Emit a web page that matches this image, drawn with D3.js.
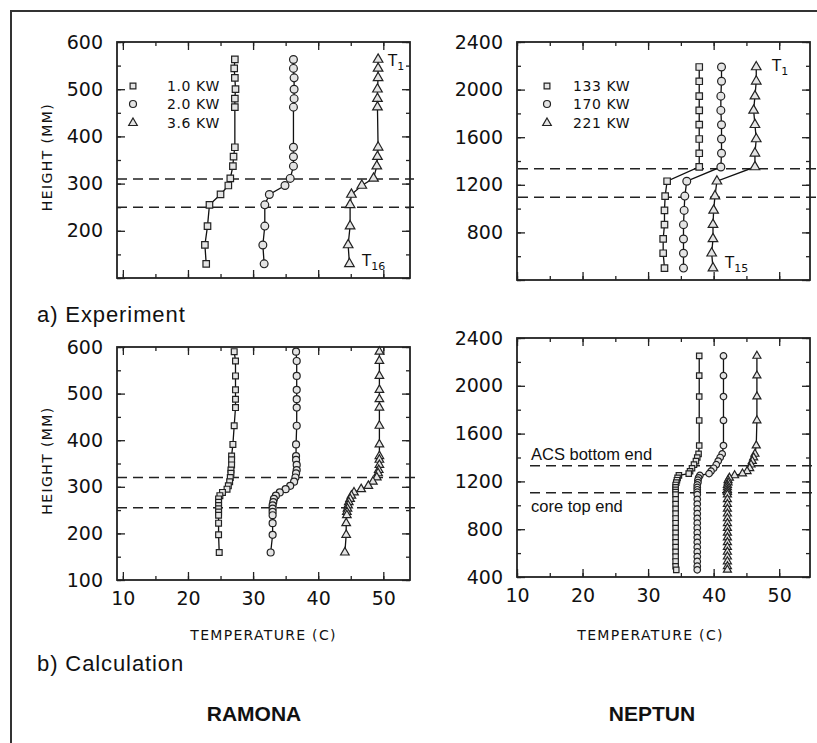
<!DOCTYPE html>
<html>
<head>
<meta charset="utf-8">
<script src="https://cdn.jsdelivr.net/npm/d3@7"></script>
<style>
  body { margin: 0; background: #fff; }
  svg { display: block; }
</style>
</head>
<body>
<div id="chart"></div>
<script>
// ---- values ----
const tempTicks = [10, 20, 30, 40, 50];
const ramonaTicks = [100, 200, 300, 400, 500, 600];
const neptunTicks = [400, 800, 1200, 1600, 2000, 2400];

const ramonaPower = ["1.0 KW", "2.0 KW", "3.6 KW"];
const neptunPower = ["133 KW", "170 KW", "221 KW"];

// a) experiment, RAMONA, thermocouples T1 (top) .. T16 (bottom), height in mm
const ramonaExpHeight = [563, 544, 524, 500, 480, 462, 377, 357, 337, 311, 296, 277, 255, 210, 170, 130];
const ramonaExp10 = [27.2, 27.1, 27.2, 27.3, 27.2, 27.2, 27.2, 27.0, 26.9, 26.5, 26.2, 25.0, 23.3, 23.0, 22.6, 22.8];
const ramonaExp20 = [36.2, 36.2, 36.3, 36.3, 36.3, 36.2, 36.2, 36.2, 36.2, 35.7, 34.9, 32.5, 31.8, 31.8, 31.5, 31.7];
const ramonaExp36 = [49.2, 49.2, 49.2, 49.1, 49.1, 49.1, 49.2, 49.1, 49.0, 48.5, 46.7, 45.1, 44.9, 44.9, 44.6, 44.8];

// a) experiment, NEPTUN, T1 .. T15
const neptunExpHeight = [2190, 2070, 1945, 1825, 1705, 1585, 1465, 1350, 1230, 1105, 985, 865, 745, 625, 500];
const neptunExp133 = [37.8, 37.8, 37.8, 37.8, 37.8, 37.8, 37.8, 37.8, 32.9, 32.6, 32.5, 32.5, 32.3, 32.3, 32.5];
const neptunExp170 = [41.2, 41.2, 41.1, 41.1, 41.2, 41.2, 41.2, 41.1, 35.9, 35.6, 35.5, 35.4, 35.4, 35.4, 35.4];
const neptunExp221 = [46.5, 46.5, 46.3, 46.1, 46.3, 46.5, 46.3, 46.3, 40.5, 40.2, 40.0, 39.9, 39.9, 39.7, 39.9];

// b) calculation, RAMONA
const ramonaCalcHeight = [590, 570, 538, 508, 488, 470, 431, 391, 366, 358, 347, 336, 329, 320, 311, 302, 295, 288, 281, 274, 267, 260, 253, 246, 239, 222, 197, 159];
const ramonaCalc10 = [27.1, 27.3, 27.3, 27.3, 27.3, 27.3, 27.1, 26.9, 26.7, 26.7, 26.7, 26.6, 26.6, 26.5, 26.4, 26.2, 26.0, 25.3, 24.9, 24.7, 24.7, 24.7, 24.7, 24.7, 24.7, 24.7, 24.7, 24.8];
const ramonaCalc20 = [36.6, 36.7, 36.7, 36.7, 36.7, 36.7, 36.7, 36.6, 36.6, 36.6, 36.7, 36.7, 36.6, 36.5, 36.3, 35.7, 35.0, 34.1, 33.5, 33.2, 33.1, 33.0, 33.0, 33.0, 33.0, 33.0, 33.0, 32.7];
const ramonaCalc36 = [49.4, 49.4, 49.4, 49.4, 49.4, 49.4, 49.4, 49.4, 49.4, 49.4, 49.4, 49.3, 49.2, 49.0, 48.4, 47.7, 46.6, 45.5, 45.1, 44.9, 44.7, 44.6, 44.5, 44.4, 44.4, 44.3, 44.3, 44.1];

// b) calculation, NEPTUN
const neptunCalcHeight = [2250, 2085, 1910, 1710, 1500, 1430, 1400, 1370, 1340, 1310, 1285, 1265, 1250, 1230, 1210, 1190, 1170, 1150, 1130, 1110, 1090, 1050, 1010, 970, 930, 890, 850, 810, 770, 730, 690, 650, 610, 570, 530, 490, 460];
const neptunCalc133 = [37.8, 37.8, 37.8, 37.8, 37.8, 37.7, 37.5, 37.3, 37.0, 36.7, 36.4, 36.2, 34.7, 34.5, 34.4, 34.3, 34.2, 34.2, 34.2, 34.2, 34.2, 34.2, 34.2, 34.2, 34.2, 34.2, 34.2, 34.2, 34.2, 34.2, 34.2, 34.2, 34.2, 34.2, 34.2, 34.2, 34.3];
const neptunCalc170 = [41.5, 41.5, 41.5, 41.5, 41.5, 41.3, 41.0, 40.7, 40.4, 40.0, 39.6, 39.3, 37.9, 37.7, 37.6, 37.6, 37.5, 37.5, 37.5, 37.5, 37.5, 37.5, 37.5, 37.5, 37.5, 37.5, 37.5, 37.5, 37.5, 37.5, 37.5, 37.5, 37.5, 37.5, 37.5, 37.5, 37.5];
const neptunCalc221 = [46.6, 46.6, 46.6, 46.6, 46.5, 46.3, 46.1, 45.9, 45.7, 45.5, 45.1, 44.4, 43.2, 42.4, 42.2, 42.2, 42.1, 42.1, 42.1, 42.1, 42.1, 42.1, 42.1, 42.1, 42.1, 42.1, 42.1, 42.1, 42.1, 42.1, 42.1, 42.1, 42.1, 42.1, 42.1, 42.1, 42.1];

// dashed reference levels (mm)
const ramonaExpDash = [310, 250];
const neptunExpDash = [1335, 1095];
const ramonaCalcDash = [320, 255];
const neptunCalcDash = [1330, 1105];

// ---- layout ----
const width = 817;
const height = 743;
const tickFont = "'DejaVu Sans', sans-serif";
const textFont = "'Liberation Sans', Arial, sans-serif";

const svg = d3.select("#chart")
    .append("svg")
    .attr("width", width)
    .attr("height", height);

svg.append("rect").attr("width", width).attr("height", height).attr("fill", "#fff");

// frame of the scanned page
svg.append("path")
    .attr("d", "M11,743 V11 H817")
    .attr("fill", "none")
    .attr("stroke", "#333")
    .attr("stroke-width", 2);

const shapes = [d3.symbolSquare, d3.symbolCircle, d3.symbolTriangle];
const shapeSize = [42, 48, 40];

const panels = [
    {
        xr: [117, 410], yr: [42, 278], xd: [9.1, 54.1], yd: [100, 600],
        yTicks: ramonaTicks, yMinor: 50, xLabels: false, yTitle: true,
        heights: ramonaExpHeight, series: [ramonaExp10, ramonaExp20, ramonaExp36],
        dash: ramonaExpDash, dashX: [117, 414], markScale: 1,
        legend: ramonaPower, legendX: 133, legendTextX: 167,
        tTop: { x: 388, y: 66, sub: "1" }, tBottom: { x: 362, y: 266, sub: "16" }
    },
    {
        xr: [517, 810], yr: [42, 280], xd: [10, 54.7], yd: [400, 2400],
        yTicks: neptunTicks, yMinor: 200, xLabels: false, yTitle: false,
        heights: neptunExpHeight, series: [neptunExp133, neptunExp170, neptunExp221],
        dash: neptunExpDash, dashX: [518, 817], markScale: 1,
        legend: neptunPower, legendX: 547, legendTextX: 573,
        tTop: { x: 772, y: 71, sub: "1" }, tBottom: { x: 725, y: 268, sub: "15" }
    },
    {
        xr: [117, 410], yr: [347, 580], xd: [9.1, 54.1], yd: [100, 600],
        yTicks: ramonaTicks, yMinor: 50, xLabels: true, yTitle: true,
        heights: ramonaCalcHeight, series: [ramonaCalc10, ramonaCalc20, ramonaCalc36],
        dash: ramonaCalcDash, dashX: [117, 418], markScale: 0.8
    },
    {
        xr: [517, 810], yr: [338, 577], xd: [10, 54.7], yd: [400, 2400],
        yTicks: neptunTicks, yMinor: 200, xLabels: true, yTitle: false,
        heights: neptunCalcHeight, series: [neptunCalc133, neptunCalc170, neptunCalc221],
        dash: neptunCalcDash, dashX: [530, 817], markScale: 0.7,
        notes: ["ACS bottom end", "core top end"]
    }
];

panels.forEach(p => {
    const x = d3.scaleLinear().domain(p.xd).range(p.xr);
    const y = d3.scaleLinear().domain(p.yd).range([p.yr[1], p.yr[0]]);
    const g = svg.append("g");

    const xMinor = d3.range(10, 55, 5);
    const yMinor = d3.range(p.yd[0], p.yd[1] + 1, p.yMinor);

    // inward tick marks on all four sides
    const sides = [
        { axis: d3.axisBottom, scale: x, t: `translate(0,${p.yr[1]})`, major: tempTicks, minor: xMinor },
        { axis: d3.axisTop, scale: x, t: `translate(0,${p.yr[0]})`, major: tempTicks, minor: xMinor },
        { axis: d3.axisLeft, scale: y, t: `translate(${p.xr[0]},0)`, major: p.yTicks, minor: yMinor },
        { axis: d3.axisRight, scale: y, t: `translate(${p.xr[1]},0)`, major: p.yTicks, minor: yMinor }
    ];
    sides.forEach(s => {
        g.append("g").attr("transform", s.t)
            .call(s.axis(s.scale).tickValues(s.minor).tickSize(-4).tickFormat(""))
            .call(a => a.select(".domain").remove());
        g.append("g").attr("transform", s.t)
            .call(s.axis(s.scale).tickValues(s.major).tickSize(-8).tickFormat(""))
            .call(a => a.select(".domain").remove());
    });
    g.selectAll(".tick line").attr("stroke", "#222").attr("stroke-width", 1.3);

    // tick labels
    const yAxis = d3.axisLeft(y).tickValues(p.yTicks).tickSize(0).tickPadding(14)
        .tickFormat(d => (p.xLabels || d > p.yd[0]) ? d : "");
    g.append("g").attr("transform", `translate(${p.xr[0]},0)`)
        .call(yAxis)
        .call(a => a.select(".domain").remove())
        .selectAll("text")
        .attr("font-family", tickFont).attr("font-size", 19).attr("fill", "#111");

    if (p.xLabels) {
        g.append("g").attr("transform", `translate(0,${p.yr[1]})`)
            .call(d3.axisBottom(x).tickValues(tempTicks).tickSize(0).tickPadding(12))
            .call(a => a.select(".domain").remove())
            .selectAll("text")
            .attr("font-family", tickFont).attr("font-size", 19).attr("fill", "#111");

        g.append("text")
            .attr("x", (p.xr[0] + p.xr[1]) / 2 + (p.yTitle ? 0 : -13))
            .attr("y", 640)
            .attr("text-anchor", "middle")
            .attr("font-family", tickFont).attr("font-size", 14)
            .attr("letter-spacing", 1.3)
            .attr("fill", "#111")
            .text("TEMPERATURE (C)");
    }

    if (p.yTitle) {
        const cy = (p.yr[0] + p.yr[1]) / 2 - 3;
        g.append("text")
            .attr("transform", `translate(52,${cy}) rotate(-90)`)
            .attr("text-anchor", "middle")
            .attr("font-family", tickFont).attr("font-size", 14)
            .attr("letter-spacing", 1.4)
            .attr("fill", "#111")
            .text("HEIGHT (MM)");
    }

    // plot box
    g.append("rect")
        .attr("x", p.xr[0]).attr("y", p.yr[0])
        .attr("width", p.xr[1] - p.xr[0]).attr("height", p.yr[1] - p.yr[0])
        .attr("fill", "none").attr("stroke", "#222").attr("stroke-width", 1.8);

    // dashed levels
    g.selectAll(".dash")
        .data(p.dash)
        .enter().append("line")
        .attr("x1", p.dashX[0]).attr("x2", p.dashX[1])
        .attr("y1", d => y(d)).attr("y2", d => y(d))
        .attr("stroke", "#222").attr("stroke-width", 1.5)
        .attr("stroke-dasharray", "10,6");

    // profiles
    const line = d3.line().x(d => x(d[0])).y(d => y(d[1]));
    p.series.forEach((temps, i) => {
        const pts = temps.map((t, k) => [t, p.heights[k]]);
        g.append("path")
            .attr("d", line(pts))
            .attr("fill", "none").attr("stroke", "#111").attr("stroke-width", 1.3);
        g.selectAll(null)
            .data(pts)
            .enter().append("path")
            .attr("transform", d => `translate(${x(d[0])},${y(d[1])})`)
            .attr("d", d3.symbol().type(shapes[i]).size(shapeSize[i] * p.markScale))
            .attr("fill", "#e4e4e4").attr("stroke", "#222").attr("stroke-width", 1.2);
    });

    // legend
    if (p.legend) {
        const rowY = [86, 104, 123];
        p.legend.forEach((label, i) => {
            g.append("path")
                .attr("transform", `translate(${p.legendX},${rowY[i]})`)
                .attr("d", d3.symbol().type(shapes[i]).size(shapeSize[i] * 0.8))
                .attr("fill", "#e4e4e4").attr("stroke", "#222").attr("stroke-width", 1.2);
            g.append("text")
                .attr("x", p.legendTextX).attr("y", rowY[i] + 5)
                .attr("font-family", tickFont).attr("font-size", 14)
                .attr("letter-spacing", 0.6)
                .attr("fill", "#111")
                .text(label);
        });
    }

    // thermocouple labels
    [p.tTop, p.tBottom].forEach(t => {
        if (!t) return;
        const tx = g.append("text")
            .attr("x", t.x).attr("y", t.y)
            .attr("font-family", tickFont).attr("font-size", 15)
            .attr("fill", "#111");
        tx.append("tspan").text("T");
        tx.append("tspan").attr("font-size", 11).attr("dy", 4).text(t.sub);
    });

    // notes on calculated NEPTUN
    if (p.notes) {
        g.append("text").attr("x", 531).attr("y", y(p.dash[0]) - 6)
            .attr("font-family", textFont).attr("font-size", 16.5).attr("fill", "#111")
            .text(p.notes[0]);
        g.append("text").attr("x", 531).attr("y", y(p.dash[1]) + 19)
            .attr("font-family", textFont).attr("font-size", 16.5).attr("fill", "#111")
            .text(p.notes[1]);
    }
});

// captions
svg.append("text").attr("x", 37).attr("y", 322)
    .attr("font-family", textFont).attr("font-size", 22).attr("letter-spacing", 0.9)
    .attr("fill", "#111").text("a) Experiment");
svg.append("text").attr("x", 37).attr("y", 671)
    .attr("font-family", textFont).attr("font-size", 22).attr("letter-spacing", 0.9)
    .attr("fill", "#111").text("b) Calculation");
svg.append("text").attr("x", 254).attr("y", 721).attr("text-anchor", "middle")
    .attr("font-family", textFont).attr("font-size", 21).attr("font-weight", "bold")
    .attr("fill", "#111").text("RAMONA");
svg.append("text").attr("x", 652).attr("y", 721).attr("text-anchor", "middle")
    .attr("font-family", textFont).attr("font-size", 21).attr("font-weight", "bold")
    .attr("fill", "#111").text("NEPTUN");
</script>
</body>
</html>
